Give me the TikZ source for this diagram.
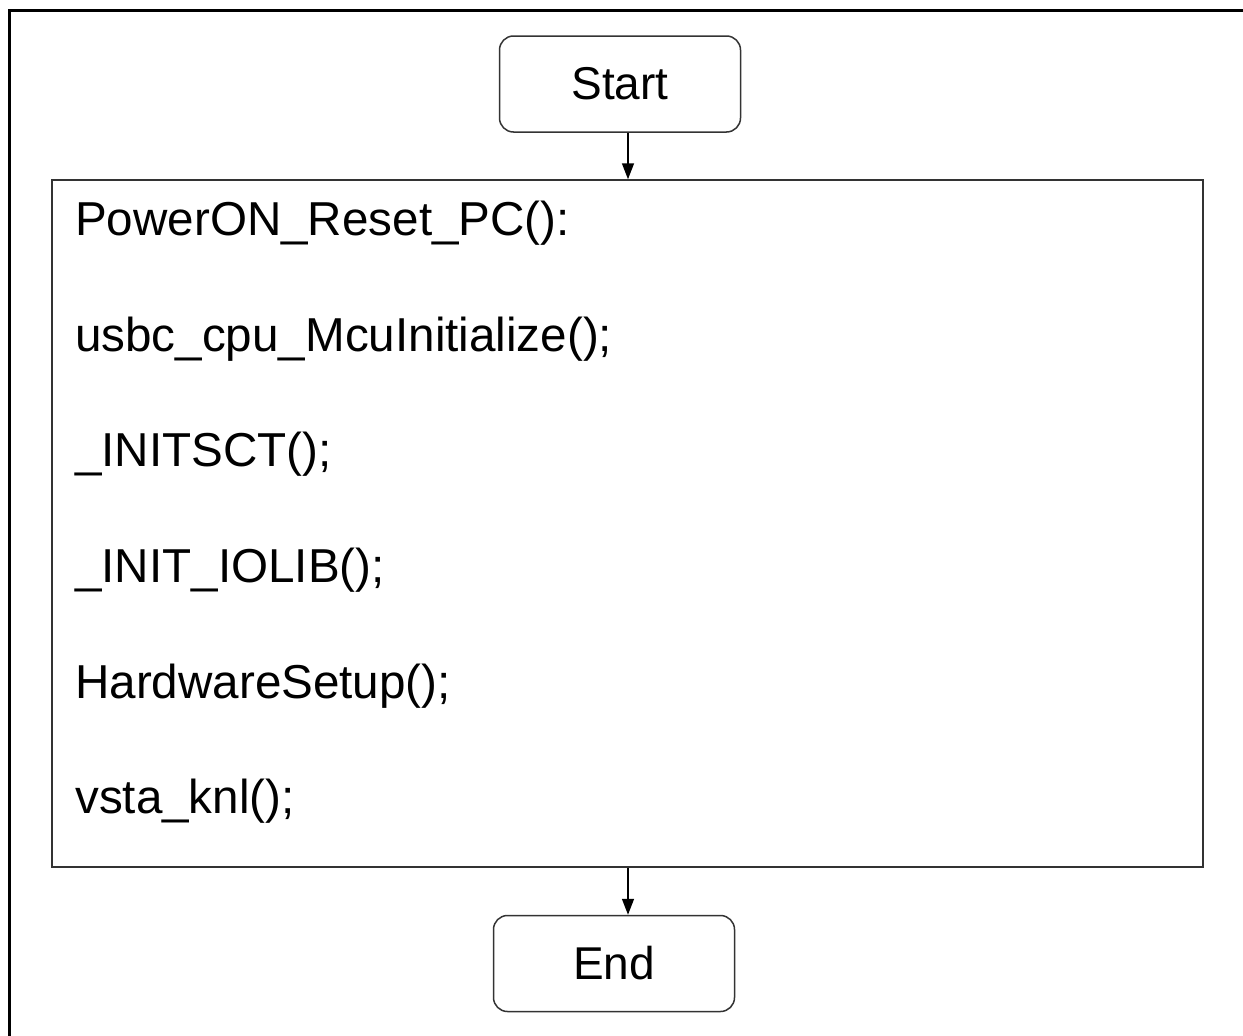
\documentclass[tikz,border=0pt]{standalone}
\usepackage{fontspec}
\setmainfont{Liberation Sans}
\usetikzlibrary{arrows.meta}
\begin{document}
\begin{tikzpicture}[x=1pt,y=-1pt,
  box/.style={draw=black!80,line width=1.5pt,inner sep=0pt},
  term/.style={box,rounded corners=14pt,minimum width=241pt,minimum height=96pt,font=\fontsize{46}{50}\selectfont},
  code/.style={anchor=base west,inner sep=0pt,font=\fontsize{47.6}{52}\selectfont},
  flow/.style={draw=black,line width=1.5pt,-{Triangle[length=16pt,width=12pt]}}]
\useasboundingbox (0,0) rectangle (1243,1036);
\draw[line width=3pt] (9.5,1036) -- (9.5,10) -- (1243,10);
\node[term] (start) at (620,84) {Start};
\node[box,minimum width=1151pt,minimum height=687pt] (main) at (627.5,523.5) {};
\node[term] (end) at (614,963.5) {End};
\node[code] (l1) at (75,235) {PowerON\_Reset\_PC():};
\node[code] (l2) at (75,351) {usbc\_cpu\_McuInitialize();};
\node[code] (l3) at (75,466) {\_INITSCT();};
\node[code] (l4) at (75,582) {\_INIT\_IOLIB();};
\node[code] (l5) at (75,698) {HardwareSetup();};
\node[code] (l6) at (75,813) {vsta\_knl();};
\coordinate (ax) at (628,0);
\draw[flow] (start.south -| ax) -- (main.north -| ax);
\draw[flow] (main.south -| ax) -- (end.north -| ax);
\end{tikzpicture}
\end{document}
